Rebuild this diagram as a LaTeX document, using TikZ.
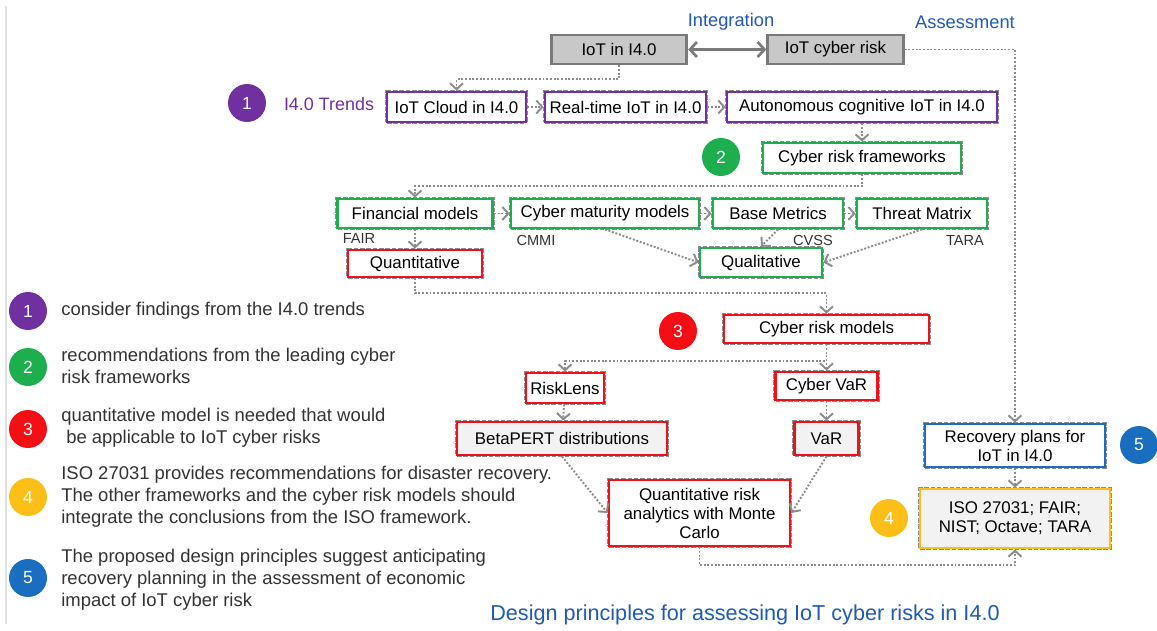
\documentclass[tikz,border=0pt]{standalone}
\usepackage{fontspec}
\setmainfont{Liberation Sans}
\usetikzlibrary{arrows.meta,positioning}
\definecolor{RiskPurple}{HTML}{7030A0}
\definecolor{RiskGreen}{HTML}{1DAF4F}
\definecolor{RiskRed}{HTML}{F40F17}
\definecolor{RiskYellow}{HTML}{FBBF17}
\definecolor{RiskBlue}{HTML}{1A6EBF}
\definecolor{RiskTitle}{HTML}{1F5BB5}
\definecolor{RiskGrey}{HTML}{C8C8C8}
\definecolor{RiskEdge}{HTML}{7A7A7A}
\definecolor{RiskDots}{HTML}{8C8C8C}
\definecolor{RiskPanel}{HTML}{F2F2F2}
\definecolor{RiskText}{HTML}{333333}

\begin{document}
\begin{tikzpicture}[x=0.02cm,y=-0.02cm,
  basebox/.style={rectangle,fill=white,draw,line width=1.6pt,inner sep=0pt,align=center,text=black,font=\fontsize{9.6}{10.8}\selectfont},
  box/.style={basebox,preaction={draw=RiskDots,densely dotted,line width=2.6pt}},
  topic/.style={basebox,draw=RiskEdge,fill=RiskGrey,minimum width=2.71cm,minimum height=0.58cm},
  trend/.style={box,draw=RiskPurple,minimum height=0.6cm},
  fwork/.style={box,draw=RiskGreen,minimum height=0.58cm},
  model/.style={box,draw=RiskRed},
  badge/.style={circle,minimum size=0.76cm,inner sep=0pt,text=white,font=\fontsize{10}{12}\selectfont},
  note/.style={anchor=west,align=left,inner sep=0pt,text=RiskText,font=\fontsize{10.5}{12.5}\selectfont},
  tag/.style={inner sep=0pt,text=RiskText,font=\fontsize{8.3}{10}\selectfont},
  link/.style={draw=RiskDots,densely dotted,line width=1.1pt,-{Straight Barb[length=1.2mm,width=2.6mm]}}
]
\useasboundingbox (0,0) rectangle (1157,631);
\draw[black!12,line width=0.6pt] (6,6) -- (6,624);

% top row
\node[topic] (iot) at (619,49.5) {IoT in I4.0};
\node[topic] (cyber) at (835.5,49.5) {IoT cyber risk};
\node[text=RiskTitle,font=\fontsize{10.4}{12}\selectfont] (integ) at (731,22) {Integration};
\node[text=RiskTitle,font=\fontsize{10.4}{12}\selectfont] (assess) at (965,22) {Assessment};
\draw[{Straight Barb[length=1.4mm,width=3mm]}-{Straight Barb[length=1.4mm,width=3mm]},draw=RiskEdge,line width=1.5pt] (iot) -- (cyber);

% I4.0 trends
\node[badge,fill=RiskPurple] (b1) at (247,103) {1};
\node[text=RiskPurple,font=\fontsize{10.2}{12}\selectfont] (trends) at (329,104) {I4.0 Trends};
\node[trend,minimum width=2.78cm] (cloud) at (456.5,107) {IoT Cloud in I4.0};
\node[trend,minimum width=3.22cm] (realtime) at (625.5,107) {Real-time IoT in I4.0};
\node[trend,minimum width=5.4cm] (auto) at (862,107) {Autonomous cognitive IoT in I4.0};

% frameworks
\node[badge,fill=RiskGreen] (b2) at (721,157) {2};
\node[fwork,minimum width=3.96cm,minimum height=0.6cm] (frameworks) at (862,158) {Cyber risk frameworks};
\node[fwork,minimum width=3.1cm] (financial) at (415,213.5) {Financial models};
\node[fwork,minimum width=3.76cm] (maturity) at (605,213.5) {Cyber maturity models};
\node[fwork,minimum width=2.6cm] (base) at (778,213.5) {Base Metrics};
\node[fwork,minimum width=2.6cm] (threat) at (922,213.5) {Threat Matrix};
\node[tag] (fair) at (359,238) {FAIR};
\node[tag] (cmmi) at (536,240) {CMMI};
\node[tag] (cvss) at (813,240) {CVSS};
\node[tag] (tara) at (965,240) {TARA};
\node[model,minimum width=2.68cm,minimum height=0.54cm] (quant) at (415,263.5) {Quantitative};
\node[fwork,minimum width=2.44cm] (qual) at (761,262.5) {Qualitative};

% cyber risk models
\node[badge,fill=RiskRed] (b3) at (678,331) {3};
\node[model,minimum width=4.1cm,minimum height=0.56cm] (models) at (826.5,329) {Cyber risk models};
\node[model,minimum width=1.56cm,minimum height=0.6cm] (risklens) at (565,388) {RiskLens};
\node[model,minimum width=2.04cm,minimum height=0.56cm] (cybervar) at (826.5,386) {Cyber VaR};
\node[model,fill=RiskPanel,minimum width=4.2cm,minimum height=0.66cm] (betapert) at (562,438.5) {BetaPERT distributions};
\node[model,fill=RiskPanel,minimum width=1.28cm,minimum height=0.66cm] (var) at (826.5,438.5) {VaR};
\node[model,minimum width=3.62cm,minimum height=1.32cm] (monte) at (699.5,513) {Quantitative risk\\analytics with Monte\\Carlo};

% recovery
\node[box,draw=RiskBlue,minimum width=3.6cm,minimum height=0.86cm] (recovery) at (1015,445.5) {Recovery plans for\\IoT in I4.0};
\node[badge,fill=RiskBlue] (b5) at (1139,445) {5};
\node[box,draw=RiskYellow,fill=RiskPanel,minimum width=3.8cm,minimum height=1.18cm] (iso) at (1015,518.5) {ISO 27031; FAIR;\\NIST; Octave; TARA};
\node[badge,fill=RiskYellow] (b4) at (889,518) {4};

% connectors
\draw[link] (iot.south) -- ++(0,14) -| (cloud.north);
\draw[link] (cyber.east) -| (recovery.north);
\draw[link] (cloud) -- (realtime);
\draw[link] (realtime) -- (auto);
\draw[link] (auto) -- (frameworks);
\draw[link] (frameworks.south) -- ++(0,12) -| (financial.north);
\draw[link] (financial) -- (maturity);
\draw[link] (maturity) -- (base);
\draw[link] (base) -- (threat);
\draw[link] (financial) -- (quant);
\draw[link] (maturity.south) -- (qual.west);
\draw[link] (base.south) -- (qual.north);
\draw[link] (threat.south) -- (qual.east);
\draw[link] (quant.south) -- ++(0,15) -| (models.north);
\draw[link] (models.south) -- ++(0,17) -| (risklens.north);
\draw[link] (models) -- (cybervar);
\draw[link] (risklens) -- (betapert);
\draw[link] (cybervar) -- (var);
\draw[link] (betapert.south) -- (monte.west);
\draw[link] (var.south) -- (monte.east);
\draw[link] (monte.south) -- ++(0,18) -| (iso.south);
\draw[link] (recovery) -- (iso);

% legend
\node[badge,fill=RiskPurple] (l1) at (28,311) {1};
\node[badge,fill=RiskGreen] (l2) at (28,367) {2};
\node[badge,fill=RiskRed] (l3) at (28,429) {3};
\node[badge,fill=RiskYellow] (l4) at (28,497) {4};
\node[badge,fill=RiskBlue] (l5) at (28,578) {5};
\node[note] (n1) at (61,311) {consider findings from the I4.0 trends};
\node[note] (n2) at (61,366) {recommendations from the leading cyber\\risk frameworks};
\node[note] (n3) at (61,428) {quantitative model is needed that would\\\hspace*{0.1cm}be applicable to IoT cyber risks};
\node[note] (n4) at (61,497) {ISO 27031 provides recommendations for disaster recovery.\\The other frameworks and the cyber risk models should\\integrate the conclusions from the ISO framework.};
\node[note] (n5) at (61,580) {The proposed design principles suggest anticipating\\recovery planning in the assessment of economic\\impact of IoT cyber risk};

\node[text=RiskTitle,font=\fontsize{12.3}{14}\selectfont] (title) at (745,615) {Design principles for assessing IoT cyber risks in I4.0};
\end{tikzpicture}
\end{document}
